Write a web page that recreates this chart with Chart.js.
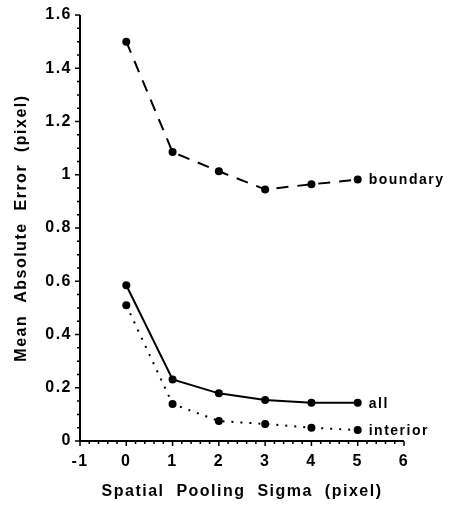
<!DOCTYPE html>
<html>
<head>
<meta charset="utf-8">
<script src="https://cdn.jsdelivr.net/npm/chart.js@4"></script>
<style>
  html, body { margin: 0; padding: 0; background: #fff; }
  #wrap { width: 449px; height: 505px; }
</style>
</head>
<body>
<div id="wrap"><canvas id="myChart" width="449" height="505"></canvas></div>
<script>
const sigma = [0, 1, 2, 3, 4, 5];
const boundary = [1.5, 1.085, 1.013, 0.945, 0.964, 0.982];
const all = [0.585, 0.231, 0.179, 0.154, 0.144, 0.144];
const interior = [0.51, 0.139, 0.075, 0.064, 0.05, 0.041];
const seriesNames = ['boundary', 'all', 'interior'];

const font = 'Liberation Sans, Arial, Helvetica, sans-serif';
const pts = (ys) => sigma.map((x, i) => ({ x: x, y: ys[i] }));

// the scanned figure uses widely spaced lettering
const spacing = {
  id: 'spacing',
  beforeInit(chart) { chart.ctx.letterSpacing = '1.5px'; },
  beforeUpdate(chart) { chart.ctx.letterSpacing = '1.5px'; },
  beforeDraw(chart) { chart.ctx.letterSpacing = '1.5px'; }
};

// end-of-line labels
const endLabels = {
  id: 'endLabels',
  afterDatasetsDraw(chart) {
    const ctx = chart.ctx;
    ctx.save();
    ctx.font = 'bold 14px ' + font;
    ctx.fillStyle = '#000';
    ctx.textBaseline = 'middle';
    chart.data.datasets.forEach((ds, i) => {
      const meta = chart.getDatasetMeta(i);
      const p = meta.data[meta.data.length - 1];
      ctx.fillText(ds.label, p.x + 11, p.y + 1);
    });
    ctx.restore();
  }
};

// major / minor tick marks
const tickMarks = {
  id: 'tickMarks',
  afterDraw(chart) {
    const ctx = chart.ctx;
    const xs = chart.scales.x, ys = chart.scales.y;
    const area = chart.chartArea;
    ctx.save();
    ctx.strokeStyle = '#000';
    ctx.lineWidth = 1.5;
    ctx.beginPath();
    for (let i = -5; i <= 30; i++) {
      const v = i / 5;
      const px = xs.getPixelForValue(v);
      const major = i % 5 === 0;
      ctx.moveTo(px, area.bottom);
      ctx.lineTo(px, area.bottom + (major ? 5 : 3));
    }
    for (let i = 0; i <= 32; i++) {
      const v = i * 0.05;
      const py = ys.getPixelForValue(v);
      const major = i % 4 === 0;
      ctx.moveTo(area.left, py);
      ctx.lineTo(area.left - (major ? 5 : 3), py);
    }
    ctx.stroke();
    // axis lines
    ctx.lineWidth = 2;
    ctx.beginPath();
    ctx.moveTo(area.left, area.top);
    ctx.lineTo(area.left, area.bottom);
    ctx.lineTo(area.right, area.bottom);
    ctx.stroke();
    ctx.restore();
  }
};

const lineDs = (label, data, dash, width) => ({
  label: label,
  data: pts(data),
  showLine: true,
  borderColor: '#000',
  backgroundColor: '#000',
  borderWidth: width,
  borderDash: dash,
  pointRadius: 4,
  pointBackgroundColor: '#000',
  pointBorderWidth: 0,
  tension: 0
});

new Chart(document.getElementById('myChart'), {
  type: 'scatter',
  data: {
    datasets: [
      lineDs(seriesNames[0], boundary, [12, 9], 2),
      lineDs(seriesNames[1], all, [], 2),
      lineDs(seriesNames[2], interior, [2, 7], 2)
    ]
  },
  options: {
    responsive: false,
    animation: false,
    layout: { padding: { top: 15, right: 45, left: 8, bottom: 0 } },
    plugins: { legend: { display: false }, tooltip: { enabled: false } },
    scales: {
      x: {
        type: 'linear',
        min: -1,
        max: 6,
        border: { display: false },
        grid: { display: false },
        afterFit: (s) => { s.height = 64; },
        ticks: {
          stepSize: 1,
          autoSkip: false,
          color: '#000',
          padding: 3,
          font: { family: font, size: 16, weight: 'bold' },
          callback: (v) => String(v)
        },
        title: {
          display: true,
          text: 'Spatial  Pooling  Sigma  (pixel)',
          color: '#000',
          padding: { top: 7 },
          font: { family: font, size: 16, weight: 'bold' }
        }
      },
      y: {
        type: 'linear',
        min: 0,
        max: 1.6,
        border: { display: false },
        grid: { display: false },
        afterFit: (s) => { s.width = 72; },
        ticks: {
          stepSize: 0.2,
          autoSkip: false,
          color: '#000',
          padding: 0,
          font: { family: font, size: 16, weight: 'bold' },
          callback: (v) => String(Math.round(v * 10) / 10)
        },
        title: {
          display: true,
          text: 'Mean  Absolute  Error  (pixel)',
          color: '#000',
          padding: { bottom: 4 },
          font: { family: font, size: 16, weight: 'bold' }
        }
      }
    }
  },
  plugins: [spacing, endLabels, tickMarks]
});
</script>
</body>
</html>
